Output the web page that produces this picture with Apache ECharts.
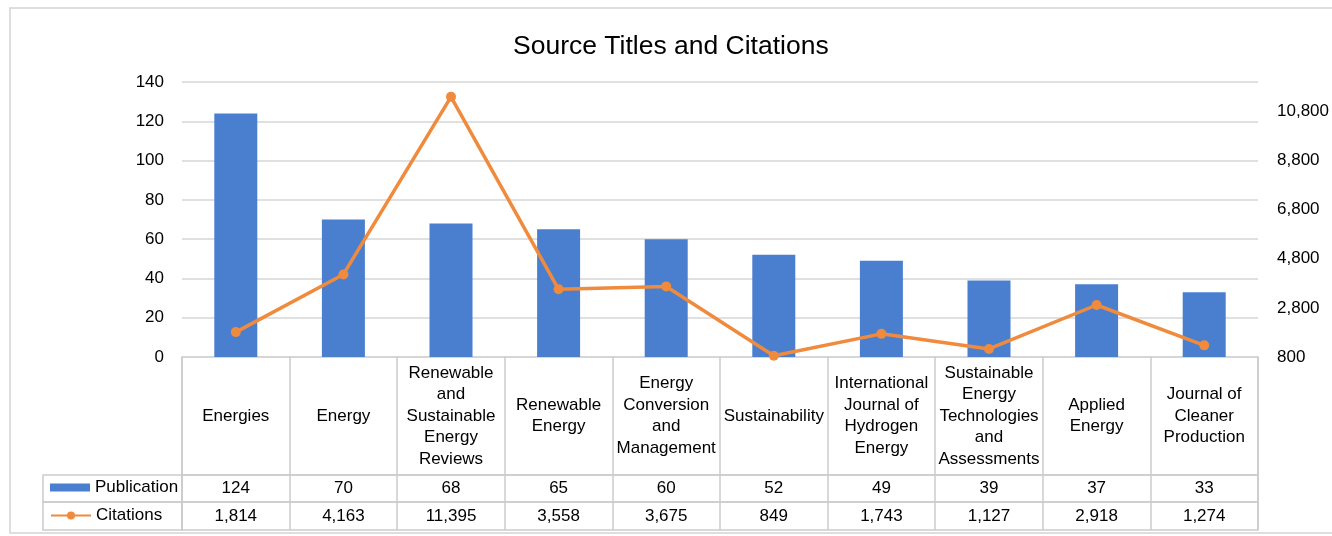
<!DOCTYPE html>
<html>
<head>
<meta charset="utf-8">
<script src="https://cdn.jsdelivr.net/npm/echarts@6/dist/echarts.min.js"></script>
<style>
  html, body { margin: 0; padding: 0; background: #fff; }
  #chart { width: 1332px; height: 536px; }
</style>
</head>
<body>
<div id="chart"></div>
<script>
const sources = [
  'Energies',
  'Energy',
  'Renewable\nand\nSustainable\nEnergy\nReviews',
  'Renewable\nEnergy',
  'Energy\nConversion\nand\nManagement',
  'Sustainability',
  'International\nJournal of\nHydrogen\nEnergy',
  'Sustainable\nEnergy\nTechnologies\nand\nAssessments',
  'Applied\nEnergy',
  'Journal of\nCleaner\nProduction'
]
const publication = [124, 70, 68, 65, 60, 52, 49, 39, 37, 33]
const citations = [1814, 4163, 11395, 3558, 3675, 849, 1743, 1127, 2918, 1274]
const leftTicks = { min: 0, max: 140, interval: 20 }
const rightTicks = { min: 800, max: 12000, interval: 2000 }

const FONT = 'Liberation Sans, Arial, sans-serif'
const SIZE = 17
const lineGray = '#cbcbcb'
const fmt = v => Number(v).toLocaleString('en-US')

const chart = echarts.init(document.getElementById('chart'))

// data table under the plot: header row + one row per series, same x span as the plot
const tableGrid = (top, height) => ({ left: 182, width: 1076, top, height, show: true, borderColor: lineGray, borderWidth: 1.5, backgroundColor: 'transparent' })
const tableX = (idx, texts, rowHeight) => ({
  type: 'category', gridIndex: idx, data: texts, boundaryGap: true, position: 'bottom',
  axisLine: { show: false }, axisTick: { show: false },
  axisLabel: {
    interval: 0, margin: -rowHeight / 2, verticalAlign: 'middle', align: 'center',
    color: '#000', fontFamily: FONT, fontSize: SIZE, lineHeight: 21.5
  },
  splitLine: { show: true, interval: 0, lineStyle: { color: lineGray, width: 1.5 } }
})
const tableY = idx => ({ type: 'value', gridIndex: idx, min: 0, max: 1, show: false })

const option = {
  backgroundColor: '#fff',
  animation: false,
  title: {
    text: 'Source Titles and Citations',
    left: 508,
    top: 28,
    textStyle: { fontFamily: FONT, fontSize: 26.5, fontWeight: 'normal', color: '#000' }
  },
  legend: [
    {
      data: [{ name: 'Publication', icon: 'rect' }], left: 50, top: 479, padding: 0,
      itemWidth: 40, itemHeight: 8, itemGap: 5,
      textStyle: { fontFamily: FONT, fontSize: SIZE, color: '#000' }
    },
    {
      data: ['Citations'], left: 50, top: 507, padding: 0,
      itemWidth: 40, itemHeight: 10, itemGap: 5,
      textStyle: { fontFamily: FONT, fontSize: SIZE, color: '#000' }
    }
  ],
  grid: [
    { left: 182, width: 1076, top: 82, height: 275 },
    tableGrid(357, 118),
    tableGrid(475, 27),
    tableGrid(502, 28)
  ],
  xAxis: [
    {
      type: 'category', gridIndex: 0, data: sources,
      axisLine: { show: false }, axisTick: { show: false }, axisLabel: { show: false }
    },
    tableX(1, sources, 118),
    tableX(2, publication.map(String), 27),
    tableX(3, citations.map(fmt), 28)
  ],
  yAxis: [
    {
      type: 'value', gridIndex: 0, ...leftTicks,
      axisLine: { show: false }, axisTick: { show: false },
      axisLabel: { color: '#000', fontFamily: FONT, fontSize: SIZE, margin: 18 },
      splitLine: { lineStyle: { color: '#d6d6d6', width: 1.5 } }
    },
    {
      type: 'value', gridIndex: 0, position: 'right', ...rightTicks,
      axisLine: { show: false }, axisTick: { show: false },
      axisLabel: { color: '#000', fontFamily: FONT, fontSize: SIZE, margin: 19, showMaxLabel: false, formatter: fmt },
      splitLine: { show: false }
    },
    tableY(1), tableY(2), tableY(3)
  ],
  series: [
    {
      name: 'Publication', type: 'bar', xAxisIndex: 0, yAxisIndex: 0,
      data: publication, barWidth: 43,
      itemStyle: { color: '#4a7fcf' }
    },
    {
      name: 'Citations', type: 'line', xAxisIndex: 0, yAxisIndex: 1,
      data: citations, symbol: 'circle', symbolSize: 10,
      lineStyle: { color: '#f08a3c', width: 3.5 },
      itemStyle: { color: '#f08a3c' }
    }
  ],
  graphic: [
    { type: 'rect', silent: true, shape: { x: 10, y: 8, width: 1340, height: 525 }, style: { fill: 'none', stroke: '#d4d4d4', lineWidth: 1.5 } },
    { type: 'rect', silent: true, shape: { x: 43, y: 475, width: 139, height: 27 }, style: { fill: 'none', stroke: lineGray, lineWidth: 1.5 } },
    { type: 'rect', silent: true, shape: { x: 43, y: 502, width: 139, height: 28 }, style: { fill: 'none', stroke: lineGray, lineWidth: 1.5 } }
  ]
}
chart.setOption(option)
</script>
</body>
</html>
